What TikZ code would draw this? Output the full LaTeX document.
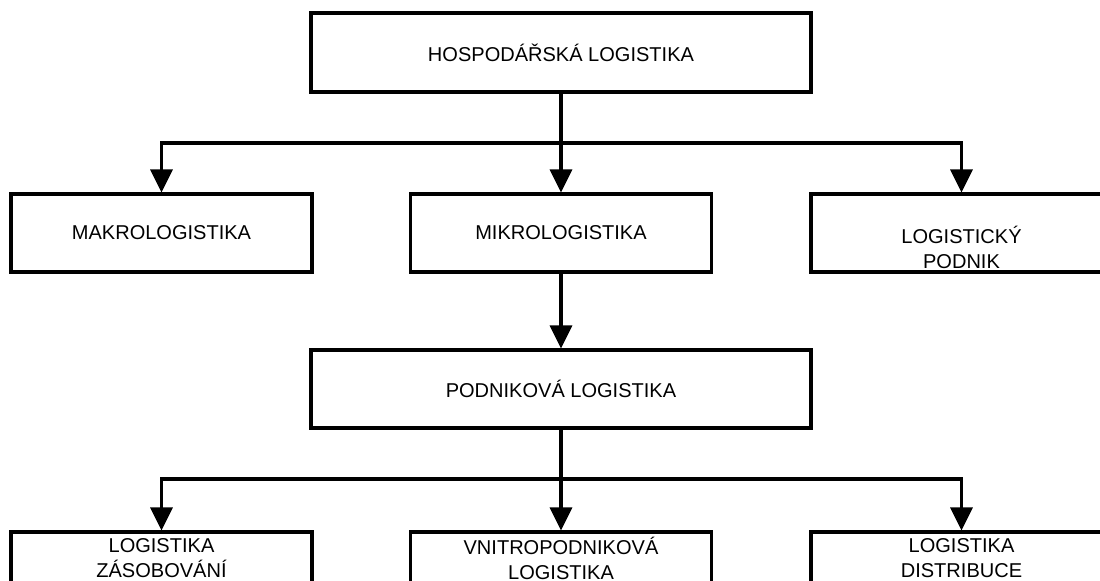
\documentclass[tikz,border=0pt]{standalone}
\usepackage{fontspec}
\setmainfont{Liberation Sans}
\usepackage{tikz}
\usetikzlibrary{positioning, arrows.meta}

\begin{document}
\begin{tikzpicture}[x=0.02cm, y=-0.02cm,
    txt/.style={font=\fontsize{11.4}{14.2}\selectfont},
    box/.style={draw, txt, line width=1.8pt, minimum width=6.02cm, minimum height=1.56cm, inner sep=0pt, align=center},
    widebox/.style={box, minimum width=10cm},
    lowbox/.style={box, minimum height=1.04cm},
    link/.style={line width=1.8pt},
    arr/.style={link, -{Triangle[width=0.44cm, length=0.46cm]}}]
      % Frame
      \useasboundingbox (0,0) rectangle (1100,581);
      \clip (0,0) rectangle (1100,581);

      % Top level
      \node[widebox, minimum height=1.58cm] (hosp) at (561,52.5) {HOSPODÁŘSKÁ LOGISTIKA};

      % Second level
      \node[box] (makro) at (161.5,233) {MAKROLOGISTIKA};
      \node[box] (mikro) at (561,233) {MIKROLOGISTIKA};
      \node[box, label={[txt, align=center, yshift=-0.28cm]center:LOGISTICKÝ\\PODNIK}] (lpodnik) at (961.5,233) {};

      % Third level
      \node[widebox] (podlog) at (561,389) {PODNIKOVÁ LOGISTIKA};

      % Bottom level
      \node[lowbox] (zasob) at (161.5,558) {LOGISTIKA\\ZÁSOBOVÁNÍ};
      \node[lowbox] (vnitro) at (561,558) {VNITROPODNIKOVÁ\\LOGISTIKA};
      \node[lowbox] (distrib) at (961.5,558) {LOGISTIKA\\DISTRIBUCE};

      % Branch points
      \coordinate (fork1) at (561,143);
      \coordinate (fork2) at (561,479);

      % Connectors
      \draw[link] (hosp) -- (fork1);
      \draw[arr] (fork1) -| (makro);
      \draw[arr] (fork1) -- (mikro);
      \draw[arr] (fork1) -| (lpodnik);
      \draw[arr] (mikro) -- (podlog);
      \draw[link] (podlog) -- (fork2);
      \draw[arr] (fork2) -| (zasob);
      \draw[arr] (fork2) -- (vnitro);
      \draw[arr] (fork2) -| (distrib);
    \end{tikzpicture}
\end{document}
